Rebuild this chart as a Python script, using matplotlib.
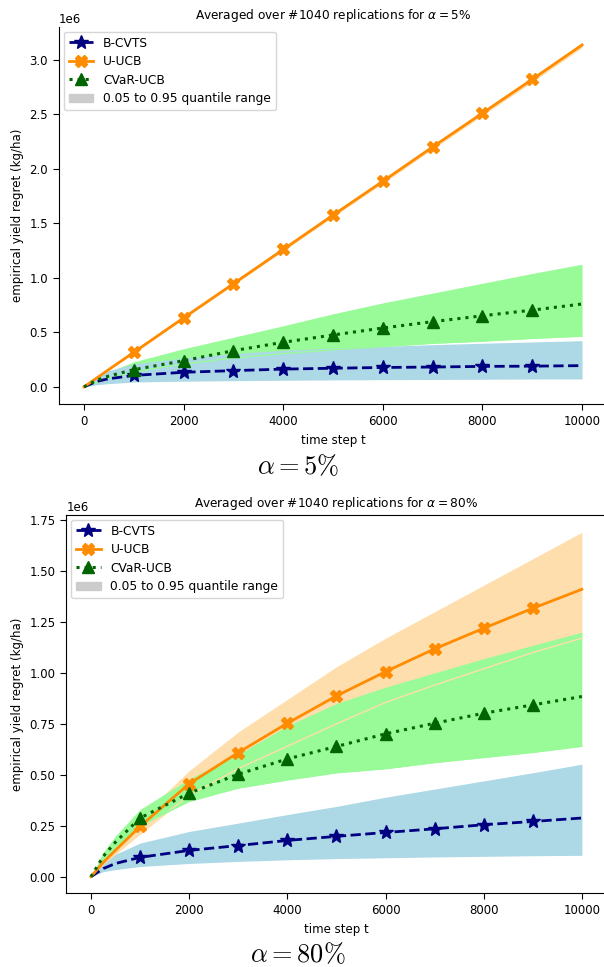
import matplotlib
matplotlib.use("Agg")
import matplotlib.pyplot as plt
from matplotlib.patches import Patch
import numpy as np

t = [0, 250, 500, 1000, 2000, 3000, 4000, 5000, 6000, 7000, 8000, 9000, 10000]

# alpha = 5%  (values in 1e6 kg/ha)
a5_bcvts = [0, 0.05, 0.075, 0.105, 0.134, 0.149, 0.163, 0.171, 0.178, 0.182, 0.188, 0.19, 0.195]
a5_bcvts_hi = [0, 0.09, 0.15, 0.21, 0.265, 0.305, 0.335, 0.357, 0.372, 0.387, 0.4, 0.412, 0.424]
a5_bcvts_lo = [0, 0.02, 0.03, 0.045, 0.052, 0.057, 0.061, 0.064, 0.066, 0.068, 0.07, 0.072, 0.073]
a5_uucb = [0, 0.08, 0.16, 0.317, 0.633, 0.946, 1.26, 1.575, 1.885, 2.2, 2.51, 2.82, 3.135]
a5_uucb_hi = [0, 0.082, 0.163, 0.322, 0.641, 0.956, 1.272, 1.59, 1.902, 2.218, 2.53, 2.843, 3.158]
a5_uucb_lo = [0, 0.078, 0.157, 0.312, 0.625, 0.936, 1.248, 1.56, 1.868, 2.182, 2.49, 2.797, 3.112]
a5_cvar = [0, 0.06, 0.1, 0.158, 0.24, 0.332, 0.409, 0.476, 0.54, 0.598, 0.652, 0.704, 0.76]
a5_cvar_hi = [0, 0.08, 0.14, 0.23, 0.35, 0.455, 0.56, 0.67, 0.77, 0.86, 0.95, 1.04, 1.125]
a5_cvar_lo = [0, 0.04, 0.08, 0.14, 0.21, 0.265, 0.305, 0.34, 0.37, 0.4, 0.42, 0.445, 0.465]

# alpha = 80%
a80_bcvts = [0, 0.04, 0.065, 0.095, 0.129, 0.153, 0.178, 0.198, 0.217, 0.235, 0.255, 0.271, 0.288]
a80_bcvts_hi = [0, 0.07, 0.11, 0.165, 0.222, 0.263, 0.305, 0.345, 0.39, 0.43, 0.47, 0.51, 0.552]
a80_bcvts_lo = [0, 0.025, 0.035, 0.05, 0.065, 0.075, 0.083, 0.089, 0.093, 0.097, 0.1, 0.103, 0.105]
a80_uucb = [0, 0.07, 0.13, 0.247, 0.456, 0.609, 0.753, 0.887, 1.006, 1.118, 1.219, 1.317, 1.41]
a80_uucb_hi = [0, 0.08, 0.15, 0.29, 0.52, 0.71, 0.87, 1.03, 1.17, 1.3, 1.43, 1.56, 1.69]
a80_uucb_lo = [0, 0.06, 0.11, 0.21, 0.40, 0.53, 0.64, 0.75, 0.855, 0.94, 1.02, 1.1, 1.17]
a80_cvar = [0, 0.1, 0.17, 0.288, 0.41, 0.503, 0.578, 0.639, 0.701, 0.753, 0.802, 0.843, 0.884]
a80_cvar_hi = [0, 0.12, 0.2, 0.33, 0.48, 0.6, 0.74, 0.85, 0.93, 1.0, 1.07, 1.135, 1.2]
a80_cvar_lo = [0, 0.08, 0.14, 0.25, 0.37, 0.435, 0.475, 0.51, 0.53, 0.56, 0.585, 0.61, 0.64]

plt.rcParams['font.size'] = 8.5

fig = plt.figure(figsize=(6.04, 9.67), dpi=100)
ax1 = fig.add_axes([0.0979, 0.5822, 0.907, 0.3899])
ax2 = fig.add_axes([0.110, 0.0765, 0.894, 0.391])

marks = list(range(3, 12))


def scale(v):
    return np.array(v) * 1e6


def panel(ax, bc, bc_hi, bc_lo, uu, uu_hi, uu_lo, cv, cv_hi, cv_lo, alpha_txt, top_spine):
    # bands: orange first, green over it, blue on top
    ax.fill_between(t, scale(uu_lo), scale(uu_hi), color='navajowhite', lw=0, zorder=1)
    ax.fill_between(t, scale(cv_lo), scale(cv_hi), color='palegreen', lw=0, zorder=1.1)
    ax.fill_between(t, scale(bc_lo), scale(bc_hi), color='lightblue', lw=0, zorder=1.2)
    # lower edges of the bands that stay visible through the later ones
    ax.plot(t, scale(uu_lo), color='navajowhite', lw=1, zorder=1.3)
    ax.plot(t, scale(cv_lo), color='palegreen', lw=1, zorder=1.3)

    ax.plot(t, scale(bc), color='navy', ls='--', lw=2, marker='*', ms=10,
            markevery=marks, label='B-CVTS', zorder=3)
    ax.plot(t, scale(uu), color='darkorange', ls='-', lw=2, marker='X', ms=9,
            markevery=marks, label='U-UCB', zorder=3)
    ax.plot(t, scale(cv), color='darkgreen', ls=':', lw=2.2, marker='^', ms=9,
            markevery=marks, label='CVaR-UCB', zorder=3)

    handles, labels = ax.get_legend_handles_labels()
    handles.append(Patch(color='0.8'))
    labels.append('0.05 to 0.95 quantile range')
    ax.legend(handles, labels, loc='upper left', fontsize=8.8, labelspacing=0.45,
              borderaxespad=0.4)

    ax.set_xlim(-500, 10500)
    ax.set_xticks([0, 2000, 4000, 6000, 8000, 10000])
    ax.set_xlabel('time step t')
    ax.set_ylabel('empirical yield regret (kg/ha)')
    ax.set_title('Averaged over #1040 replications for $\\alpha = %s\\%%$' % alpha_txt, fontsize=8.7)
    ax.tick_params(length=4.5)
    ax.spines['right'].set_visible(False)
    ax.spines['top'].set_visible(top_spine)


panel(ax1, a5_bcvts, a5_bcvts_hi, a5_bcvts_lo, a5_uucb, a5_uucb_hi, a5_uucb_lo,
      a5_cvar, a5_cvar_hi, a5_cvar_lo, '5', False)
panel(ax2, a80_bcvts, a80_bcvts_hi, a80_bcvts_lo, a80_uucb, a80_uucb_hi, a80_uucb_lo,
      a80_cvar, a80_cvar_hi, a80_cvar_lo, '80', True)

ax1.set_ylim(-0.157e6, 3.3e6)
ax1.set_yticks(np.arange(0, 3.01e6, 0.5e6))
ax2.set_ylim(-0.08e6, 1.775e6)
ax2.set_yticks(np.arange(0, 1.76e6, 0.25e6))

# captions under each panel, LaTeX-like font
fig.text(0.493, 1 - 467 / 967, r'$\alpha = 5\%$', ha='center', va='center',
         fontsize=19, math_fontfamily='cm')
fig.text(0.493, 1 - 955 / 967, r'$\alpha = 80\%$', ha='center', va='center',
         fontsize=19, math_fontfamily='cm')

fig.savefig('out.png', dpi=100)
